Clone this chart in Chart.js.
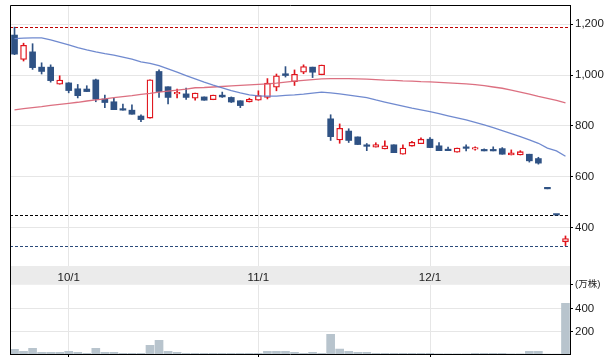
<!DOCTYPE html>
<html>
<head>
<meta charset="utf-8">
<script src="https://cdn.jsdelivr.net/npm/chart.js@4/dist/chart.umd.min.js"></script>
<style>
  html, body { margin: 0; padding: 0; background: #fff; }
  #wrap { position: relative; width: 615px; height: 362px; }
  #price { position: absolute; left: 0; top: 0; }
  #vol { position: absolute; left: 0; top: 266px; }
</style>
</head>
<body>
<div id="wrap">
  <canvas id="price" width="615" height="266"></canvas>
  <canvas id="vol" width="615" height="96"></canvas>
</div>
<script>
// trading days (Sep 22 - Dec 22)
const dates = [
  '9/22','9/25','9/26','9/27','9/28','9/29',
  '10/2','10/3','10/4','10/5','10/6','10/10','10/11','10/12','10/13','10/16','10/17',
  '10/18','10/19','10/20','10/23','10/24','10/25','10/26','10/27','10/30','10/31',
  '11/1','11/6','11/7','11/8','11/9','11/10','11/13','11/14','11/15','11/16','11/17',
  '11/20','11/21','11/22','11/24','11/27','11/28','11/29','11/30',
  '12/1','12/4','12/5','12/6','12/7','12/8','12/11','12/12','12/13','12/14','12/15',
  '12/18','12/19','12/20','12/21','12/22'
];
const monthTickIdx = [6, 27, 46];
const monthTickLabels = ['10/1', '11/1', '12/1'];

const openP  = [1157,1061,1091,1031,1031,964,969,946,945,981,906,895,862,862,839,831,1014,954,926,926,
  909,914,903,921,912,899,894,901,912,952,1005,974,1011,1031,1001,828,745,780,757,723,
  717,710,726,689,721,730,748,722,703,697,713,709,706,702,711,686,686,689,672,553,450,345];
const highP  = [1188,1125,1123,1048,1040,997,970,963,958,984,921,908,886,883,844,981,1020,954,945,949,
  929,914,921,933,914,899,909,938,986,1004,1033,1020,1040,1031,1039,844,808,789,757,731,
  734,742,726,726,740,753,754,735,717,713,726,718,710,718,715,706,703,689,677,553,450,368];
const lowP   = [1080,1055,1022,1004,972,964,930,910,935,895,872,864,862,846,817,831,912,887,910,904,
  901,901,903,912,892,872,894,901,906,938,992,959,1005,990,1001,743,732,735,727,703,
  717,710,695,689,721,730,715,703,703,697,702,705,702,702,689,686,686,658,650,553,450,330];
const closeP = [1082,1117,1029,1014,978,980,939,919,935,905,892,864,862,846,825,981,935,912,928,912,
  929,901,921,914,894,880,905,919,968,997,998,1003,1033,1011,1039,758,791,743,727,720,
  727,722,695,713,736,748,715,703,703,713,712,715,702,702,689,694,699,663,654,553,450,358];

// moving averages (short = blue, long = red)
const maShort = [1143,1145,1146,1146,1138,1128,1118,1108,1099,1091,1084,1078,1070,1062,1052,1046,1037,1024,1011,998,
  985,972,960,950,939,930,922,918,917,917,920,922,925,929,933,930,926,921,916,911,
  902,894,886,878,870,863,856,848,840,832,824,814,804,793,782,770,758,745,732,713,702,681];
const maLong = [863,868,872,876,881,885,889,893,898,902,906,911,915,919,924,928,933,937,941,945,
  950,951,953,955,957,959,961,963,965,968,972,976,979,982,985,986,986,986,985,984,
  982,980,979,977,976,974,973,971,969,967,965,962,958,953,948,941,933,925,916,908,900,891];

// period high / previous close / period low
const refValues = [1188, 450, 330];
const refColors = ['#c00000', '#000000', '#2b4a7a'];

const volume = [41,24,50,15,15,15,24,15,6,50,15,15,6,6,6,76,121,24,15,6,
  6,6,6,6,6,6,6,6,24,24,24,15,6,15,6,174,44,24,15,15,
  6,6,6,6,6,6,6,1,1,1,1,6,6,6,6,1,1,24,24,0,0,449];

const priceTicks = [400, 600, 800, 1000, 1200];
const volTicks = [200, 400];
const volMax = 614;

const UP = '#e0141c', DOWN = '#2f5284';
const FONT = "'Liberation Sans', 'Noto Sans CJK JP', sans-serif";

const isUp = openP.map((o, i) => closeP[i] > o);
const bodies = openP.map((o, i) => [o, closeP[i]]);
const wicks = lowP.map((l, i) => [l, highP[i]]);

const gridColorAt = ctx => monthTickIdx.includes(ctx.index) ? '#e6e6e6' : 'rgba(0,0,0,0)';

const frame = {
  id: 'frame',
  afterDraw(chart, args, opts) {
    const { ctx, chartArea: a } = chart;
    const l = Math.round(a.left) + 0.5, r = Math.round(a.right) + 0.5;
    ctx.save();
    ctx.strokeStyle = '#000';
    ctx.lineWidth = 1;
    ctx.beginPath();
    const y0 = opts.top ? Math.round(a.top) + 0.5 : 0;
    ctx.moveTo(l, y0); ctx.lineTo(l, a.bottom);
    ctx.moveTo(r, y0); ctx.lineTo(r, a.bottom);
    if (opts.top) { ctx.moveTo(l, y0); ctx.lineTo(r, y0); }
    ctx.stroke();
    ctx.restore();
  }
};

const refLines = {
  id: 'refLines',
  beforeDatasetsDraw(chart) {
    const { ctx, chartArea: a, scales: { y } } = chart;
    ctx.save();
    ctx.lineWidth = 1;
    ctx.setLineDash([3, 2]);
    refValues.forEach((v, i) => {
      const py = Math.round(y.getPixelForValue(v)) + 0.5;
      ctx.strokeStyle = refColors[i];
      ctx.beginPath();
      ctx.moveTo(a.left, py);
      ctx.lineTo(a.right, py);
      ctx.stroke();
    });
    ctx.restore();
  }
};

const band = {
  id: 'band',
  beforeDraw(chart) {
    const { ctx, chartArea: a } = chart;
    ctx.save();
    ctx.fillStyle = '#ebebeb';
    ctx.fillRect(a.left, 0, a.right - a.left, a.top);
    ctx.restore();
  }
};

new Chart(document.getElementById('price'), {
  type: 'bar',
  data: {
    labels: dates,
    datasets: [
      { type: 'line', data: maShort, borderColor: 'rgba(104,132,204,0.95)', borderWidth: 1.3, pointRadius: 0, order: 0 },
      { type: 'line', data: maLong, borderColor: 'rgba(218,104,122,0.95)', borderWidth: 1.3, pointRadius: 0, order: 0 },
      {
        data: bodies, order: 1, grouped: false, barThickness: 6, minBarLength: 1.5,
        borderSkipped: false,
        backgroundColor: isUp.map(u => u ? '#fff' : DOWN),
        borderColor: isUp.map(u => u ? UP : DOWN),
        borderWidth: isUp.map(u => u ? 1.3 : 0)
      },
      { data: wicks, order: 2, grouped: false, barThickness: 1, backgroundColor: isUp.map(u => u ? UP : DOWN) }
    ]
  },
  options: {
    responsive: false,
    animation: false,
    layout: { padding: { left: 10, top: 5, right: 0, bottom: 0 } },
    plugins: { legend: { display: false }, tooltip: { enabled: false }, frame: { top: true } },
    scales: {
      x: {
        offset: true,
        ticks: { display: false, autoSkip: false },
        grid: { offset: false, drawTicks: false, color: gridColorAt },
        border: { display: false }
      },
      y: {
        position: 'right',
        min: 250, max: 1275,
        afterBuildTicks: s => { s.ticks = priceTicks.map(v => ({ value: v })); },
        afterFit: s => { s.width = 45; s.paddingTop = 0; s.paddingBottom = 0; },
        ticks: {
          callback: v => v.toLocaleString('en-US'),
          color: '#1a1a1a', padding: 2,
          font: { family: FONT, size: 11.5 }
        },
        grid: { color: '#e6e6e6', tickColor: '#000', tickLength: 3 },
        border: { color: '#000' }
      }
    }
  },
  plugins: [frame, refLines]
});

new Chart(document.getElementById('vol'), {
  type: 'bar',
  data: {
    labels: dates,
    datasets: [{ data: volume, backgroundColor: '#b8c4cd', barThickness: 8 }]
  },
  options: {
    responsive: false,
    animation: false,
    layout: { padding: { left: 10, top: 4, right: 0, bottom: 5 } },
    plugins: { legend: { display: false }, tooltip: { enabled: false }, frame: { top: false } },
    scales: {
      x: {
        offset: true,
        ticks: { display: false, autoSkip: false },
        grid: { offset: false, drawTicks: true, tickLength: 3, color: gridColorAt,
          tickColor: ctx => monthTickIdx.includes(ctx.index) ? '#000' : 'rgba(0,0,0,0)' },
        border: { color: '#000' }
      },
      x2: {
        type: 'category',
        position: 'top',
        offset: true,
        grid: { display: false, drawTicks: false },
        border: { display: false },
        ticks: {
          autoSkip: false, maxRotation: 0, padding: 0.5,
          color: '#1a1a1a', font: { family: FONT, size: 11.5 },
          callback: (v, i) => {
            const k = monthTickIdx.indexOf(i);
            return k < 0 ? '' : monthTickLabels[k];
          }
        }
      },
      y: {
        position: 'right',
        min: 0, max: volMax,
        afterBuildTicks: s => { s.ticks = volTicks.concat([volMax]).map(v => ({ value: v })); },
        afterFit: s => { s.width = 45; s.paddingTop = 0; s.paddingBottom = 0; },
        ticks: {
          callback: v => v === volMax ? '(万株)' : v,
          color: '#1a1a1a', padding: 2,
          font: ctx => ({ family: FONT, size: ctx.tick && ctx.tick.value === volMax ? 9.5 : 11.5 })
        },
        grid: {
          color: ctx => ctx.tick && ctx.tick.value === volMax ? 'rgba(0,0,0,0)' : '#e6e6e6',
          tickColor: '#000', tickLength: 3
        },
        border: { color: '#000' }
      }
    }
  },
  plugins: [frame, band]
});
</script>
</body>
</html>
